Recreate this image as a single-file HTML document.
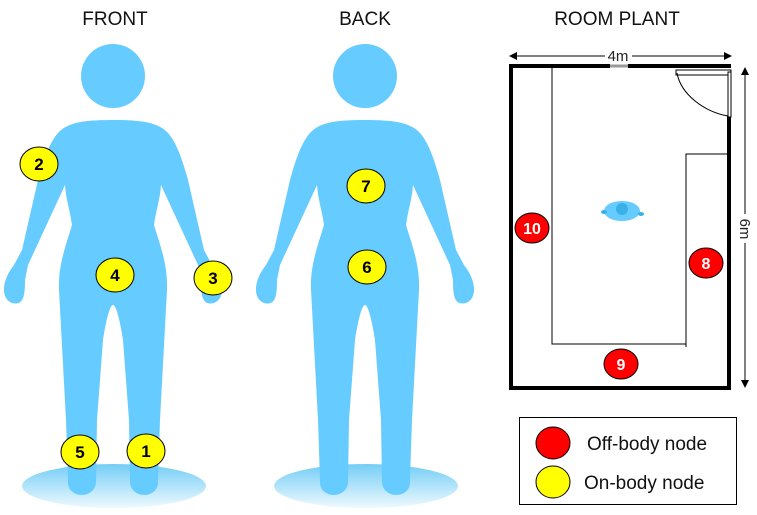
<!DOCTYPE html>
<html><head><meta charset="utf-8"><style>
html,body{margin:0;padding:0;background:#fff;}
svg{display:block;font-family:"Liberation Sans",sans-serif;}
</style></head><body>
<svg width="757" height="515" viewBox="0 0 757 515">
<defs>
<linearGradient id="floor" x1="0" y1="0" x2="0" y2="1">
<stop offset="0" stop-color="#74cdf6"/><stop offset="1" stop-color="#eef9fe"/>
</linearGradient>
<g id="body">
<circle cx="113" cy="76" r="32" fill="#66cbfe"/>
<path fill="#66cbfe" d="M113,120 C85,120 68,122 58,133 C50,142 44,158 38,180 L22,250 L14,265 C2,280 0,298 12,303 C24,306 25,295 25,280 L28,265 L65,185 C66,200 70,210 72,225 C66,245 58,265 59,290 L66,420 L68,480 C66,499 95,500 96,482 L97,420 L103,340 C106,320 110,305 113,305 C116,305 120,320 123,340 L129,420 L130,482 C131,500 160,499 158,480 L160,420 L167,290 C168,265 160,245 154,225 C156,210 160,200 161,185 L198,265 L201,280 C201,295 202,306 214,303 C226,298 224,280 212,265 L204,250 L188,180 C182,158 176,142 168,133 C158,122 141,120 113,120 Z"/>
</g>
</defs>

<text x="115" y="25" font-size="19" text-anchor="middle" fill="#111">FRONT</text>
<text x="365" y="25" font-size="19" text-anchor="middle" fill="#111">BACK</text>
<text x="617" y="25" font-size="19" text-anchor="middle" fill="#111">ROOM PLANT</text>

<g>
<ellipse cx="114" cy="486" rx="92" ry="22" fill="url(#floor)"/>
<use href="#body"/>
</g>
<g transform="translate(252,0)">
<ellipse cx="114" cy="486" rx="92" ry="22" fill="url(#floor)"/>
<use href="#body"/>
</g>

<g font-weight="bold" font-size="17" text-anchor="middle" fill="#000">
<g><ellipse cx="39" cy="164" rx="19" ry="17" fill="#ffff00" stroke="#000"/><text x="39" y="170">2</text></g>
<g><ellipse cx="115" cy="275" rx="19" ry="17" fill="#ffff00" stroke="#000"/><text x="115" y="281">4</text></g>
<g><ellipse cx="213" cy="278" rx="19" ry="17" fill="#ffff00" stroke="#000"/><text x="213" y="284">3</text></g>
<g><ellipse cx="80" cy="452" rx="19" ry="17" fill="#ffff00" stroke="#000"/><text x="80" y="458">5</text></g>
<g><ellipse cx="146" cy="451" rx="19" ry="17" fill="#ffff00" stroke="#000"/><text x="146" y="457">1</text></g>
<g><ellipse cx="366" cy="186" rx="19" ry="17" fill="#ffff00" stroke="#000"/><text x="366" y="192">7</text></g>
<g><ellipse cx="367" cy="267" rx="19" ry="17" fill="#ffff00" stroke="#000"/><text x="367" y="273">6</text></g>
</g>

<g>
<path d="M729,116 L729,388 L511,388 L511,66 L610,66 M628,66 L731,66" fill="none" stroke="#000" stroke-width="4"/>
<line x1="610" y1="66" x2="628" y2="66" stroke="#999" stroke-width="3"/>
<rect x="676" y="70" width="55" height="5" fill="#fff" stroke="#000" stroke-width="1"/>
<rect x="728" y="72" width="3" height="45" fill="#fff" stroke="#000" stroke-width="1"/>
<path d="M677,73 C681,95 705,112 728,116" fill="none" stroke="#000" stroke-width="1"/>
<path d="M552,66 L552,344 L686,344 L686,347 M686,344 L686,154 L728,154" fill="none" stroke="#000" stroke-width="1"/>
<g>
<ellipse cx="622" cy="211" rx="18" ry="10" fill="#66cbfe"/>
<ellipse cx="604" cy="212" rx="3" ry="2" fill="#3ab0e6"/>
<ellipse cx="641" cy="214" rx="3" ry="2" fill="#3ab0e6"/>
<circle cx="622" cy="209" r="6" fill="#3ab0e6"/>
</g>
<g>
<line x1="512" y1="56" x2="605" y2="56" stroke="#000"/><line x1="632" y1="56" x2="729" y2="56" stroke="#000"/>
<path d="M509,56 L517,52 L517,60 Z M732,56 L724,52 L724,60 Z" fill="#000"/>
<text x="618" y="61" font-size="15" text-anchor="middle" fill="#222">4m</text>
</g>
<g>
<line x1="745" y1="70" x2="745" y2="214" stroke="#000"/><line x1="745" y1="243" x2="745" y2="385" stroke="#000"/>
<path d="M745,67 L741,75 L749,75 Z M745,388 L741,380 L749,380 Z" fill="#000"/>
<text x="745" y="229" font-size="15" text-anchor="middle" fill="#222" transform="rotate(90 745 229) translate(0,5)">6m</text>
</g>
</g>

<g font-weight="bold" font-size="16" text-anchor="middle" fill="#fff">
<g><ellipse cx="532" cy="228" rx="17" ry="15" fill="#ff0000" stroke="#000"/><text x="532" y="234">10</text></g>
<g><ellipse cx="706" cy="263" rx="17" ry="15" fill="#ff0000" stroke="#000"/><text x="706" y="269">8</text></g>
<g><ellipse cx="621" cy="364" rx="17" ry="15" fill="#ff0000" stroke="#000"/><text x="621" y="370">9</text></g>
</g>

<g>
<rect x="519.5" y="417.5" width="217" height="87" fill="#fff" stroke="#000"/>
<g>
<ellipse cx="553" cy="443" rx="17" ry="16" fill="#ff0000" stroke="#000"/>
<text x="587" y="450" font-size="19" fill="#111">Off-body node</text>
</g>
<g>
<ellipse cx="553" cy="482" rx="17" ry="16" fill="#ffff00" stroke="#000"/>
<text x="584" y="489" font-size="19" fill="#111">On-body node</text>
</g>
</g>
</svg>
</body></html>
